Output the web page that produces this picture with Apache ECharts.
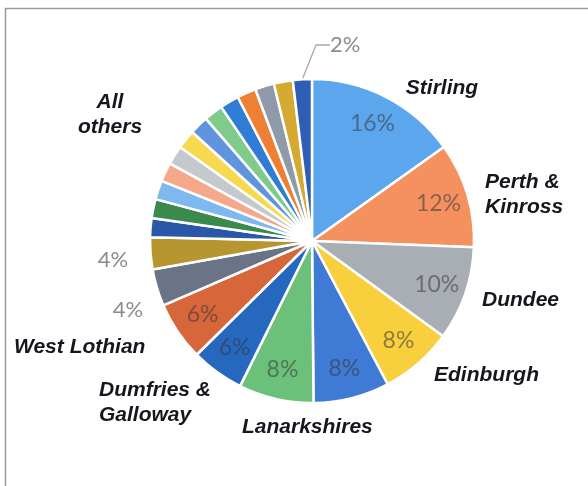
<!DOCTYPE html>
<html>
<head>
<meta charset="utf-8">
<script src="https://cdn.jsdelivr.net/npm/echarts@6/dist/echarts.min.js"></script>
<style>
html,body{margin:0;padding:0;background:#fff;}
#chart{width:588px;height:486px;}
</style>
</head>
<body>
<div id="chart"></div>
<script>
// Slices clockwise from 12 o'clock
const categories = ['Stirling','Perth & Kinross','Dundee','Edinburgh','Lanarkshires (1)','Lanarkshires (2)','Dumfries & Galloway','West Lothian','Other 1','Other 2',
  'Other 3','Other 4','Other 5','Other 6','Other 7','Other 8','Other 9','Other 10','Other 11','Other 12','Other 13','Other 14','Other 15'];
const values = [15.2, 10.5, 9.4, 7.3, 7.6, 7.5, 5.3, 5.9, 3.7, 3.2,
  1.9, 1.9, 1.9, 1.9, 1.9, 1.9, 1.9, 1.9, 1.9, 1.9, 1.9, 1.9, 1.9];
// Printed percentage labels
const pctLabels = ['16%','12%','10%','8%','8%','8%','6%','6%','4%','4%',
  '','','','','','','','','','','','','2%'];
// Printed name labels
const nameLabels = ['Stirling','Perth &\nKinross','Dundee','Edinburgh','','Lanarkshires','Dumfries &\nGalloway','West Lothian','','',
  '','','','','','','All\nothers','','','','','',''];

const colors = ['#5ba6ec','#f4915f','#a9adb4','#f8cf3c','#3f7ad4','#6cc17a','#2768bf','#d8663b','#6b7486','#b8962f',
  '#2b57a8','#3a8a4b','#7db8ee','#f5a98a','#c5c8cd','#f6d94f','#6094dc','#80cb8b','#2f7dd5','#ee8035','#9099a7','#d4aa30','#2f5fb5'];

const insideIdx = [0,1,2,3,4,5,6,7];
const outerPctIdx = [8,9];
const topPctIdx = 22;

// label placement (layout only)
const nameLayout = {
  0:{x:442,y:88,align:'center'},
  1:{x:485,y:195,align:'left'},
  2:{x:482,y:300,align:'left'},
  3:{x:434,y:375,align:'left'},
  5:{x:242,y:427,align:'left'},
  6:{x:99,y:403,align:'left'},
  7:{x:14,y:347,align:'left'},
  16:{x:110,y:115,align:'center'},
  8:{x:128,y:310,align:'center'},
  9:{x:113,y:260,align:'center'}
};

const chart = echarts.init(document.getElementById('chart'), null, {renderer:'canvas'});
const CENTER = [312, 241];
const R = 162;

const mainData = values.map((v,i)=>({
  name: categories[i], value: v,
  itemStyle:{color: colors[i]},
  label: {show: i === topPctIdx},
  labelLine: {show: i === topPctIdx}
}));

const insideData = values.map((v,i)=>({
  name: categories[i], value: v,
  label: {show: insideIdx.indexOf(i) >= 0}
}));

const outerData = values.map((v,i)=>{
  const isName = nameLabels[i] !== '';
  const isPct = outerPctIdx.indexOf(i) >= 0;
  return {
    name: categories[i], value: v,
    label: {
      show: isName || isPct,
      formatter: isName ? nameLabels[i] : pctLabels[i],
      color: isName ? '#16161f' : '#8c8c8c',
      fontFamily: isName ? 'Liberation Sans' : 'Lato',
      fontStyle: isName ? 'italic' : 'normal',
      fontWeight: isName ? 'bold' : 'normal',
      fontSize: isName ? 21 : 22,
      lineHeight: 25
    }
  };
});

const option = {
  backgroundColor: '#ffffff',
  animation: false,
  graphic: [{
    type:'rect', shape:{x:5.5,y:8.5,width:620,height:520},
    style:{fill:'none', stroke:'#9a9a9a', lineWidth:1.5}, silent:true
  }],
  series: [
    {
      type:'pie', center: CENTER, radius: [0, R], startAngle: 90, clockwise: true,
      avoidLabelOverlap: false, silent: true,
      itemStyle:{borderColor:'#ffffff', borderWidth:2.5},
      label:{
        position:'outside',
        formatter: p => pctLabels[p.dataIndex],
        color:'#8c8c8c', fontFamily:'Lato', fontSize:22
      },
      labelLine:{length:26, length2:14, smooth:false, lineStyle:{color:'#a8a8a8', width:1.3}},
      labelLayout: p => p.dataIndex === topPctIdx ? {x:330, y:45, align:'left', verticalAlign:'middle'} : {},
      data: mainData
    },
    {
      type:'pie', center: CENTER, radius: [96, R], startAngle: 90, clockwise: true,
      avoidLabelOverlap: false, silent: true,
      itemStyle:{color:'rgba(0,0,0,0)', borderWidth:0},
      label:{
        position:'inside', rotate: 0,
        formatter: p => pctLabels[p.dataIndex],
        color:'rgba(55,55,60,0.55)', fontFamily:'Lato', fontSize:23
      },
      labelLine:{show:false},
      data: insideData
    },
    {
      type:'pie', center: CENTER, radius: [0, R], startAngle: 90, clockwise: true,
      avoidLabelOverlap: false, silent: true,
      itemStyle:{color:'rgba(0,0,0,0)', borderWidth:0},
      label:{position:'outside'},
      labelLine:{show:false},
      labelLayout: p => {
        const L = nameLayout[p.dataIndex];
        return L ? {x:L.x, y:L.y, align:L.align, verticalAlign:'middle'} : {};
      },
      data: outerData
    }
  ]
};
chart.setOption(option);
</script>
</body>
</html>
